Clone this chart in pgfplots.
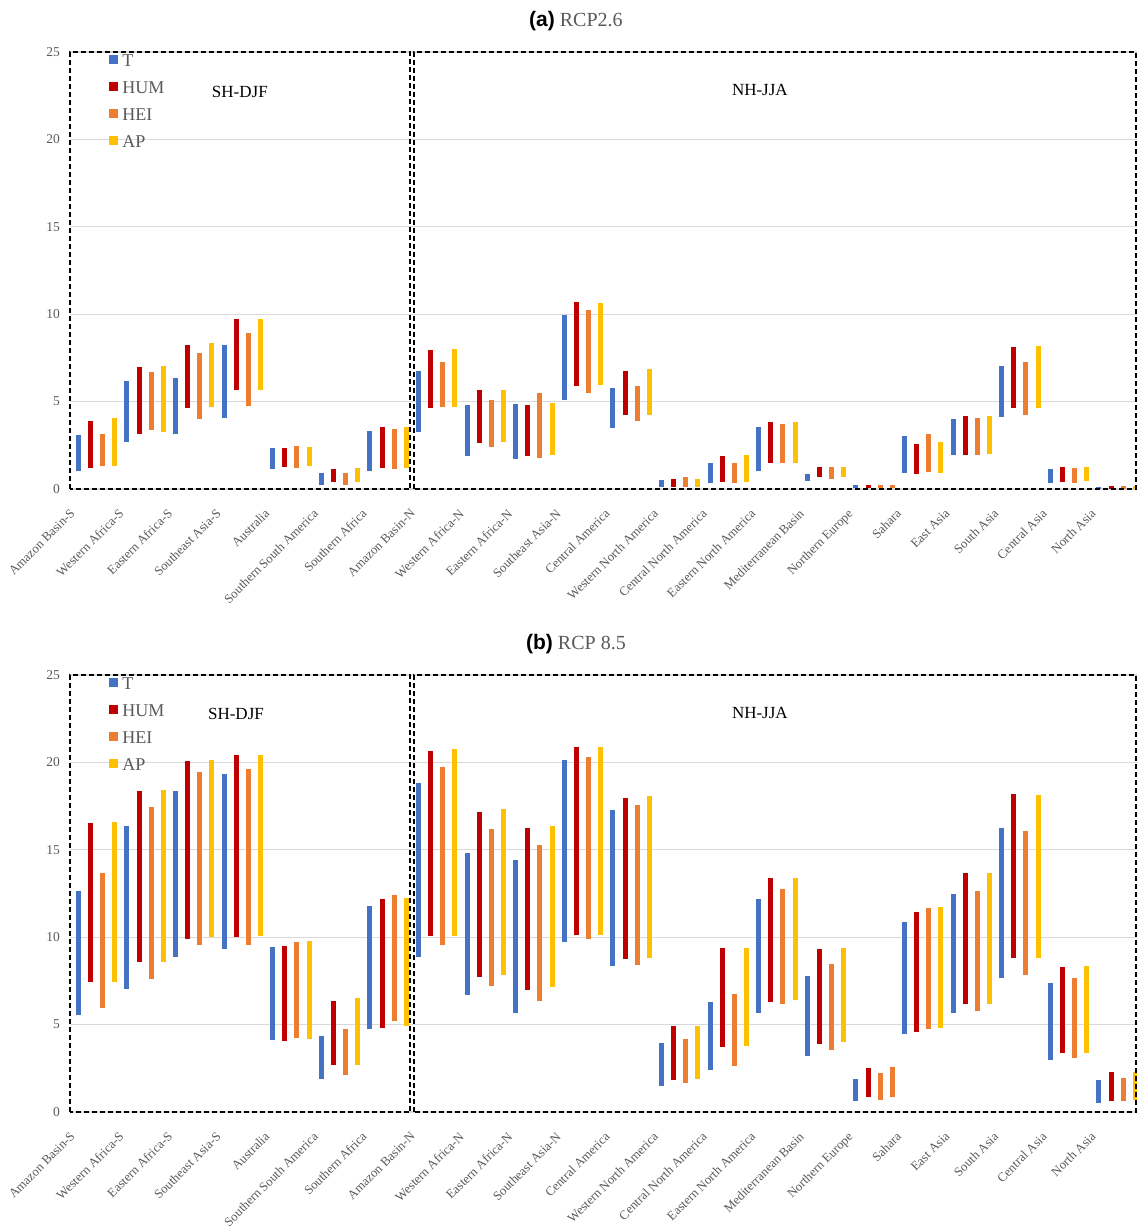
\documentclass[border=0pt]{standalone}
\usepackage{fontspec}
\setmainfont{Liberation Serif}
\newfontfamily\arial{Liberation Sans}
\usepackage{pgfplots}
\usepackage{pgfplotstable}
\pgfplotsset{compat=1.18}
\definecolor{cT}{HTML}{4472C4}
\definecolor{cH}{HTML}{C00000}
\definecolor{cE}{HTML}{ED7D31}
\definecolor{cA}{HTML}{FFC000}
\definecolor{cTxt}{HTML}{595959}
\definecolor{cGrid}{HTML}{D9D9D9}

% panel (a) RCP2.6 : low/high of each bar
\pgfplotstableread{
x Tlo Thi Hlo Hhi Elo Ehi Alo Ahi
0 1.03 3.08 1.22 3.91 1.30 3.16 1.30 4.05
1 2.71 6.16 3.12 6.96 3.39 6.71 3.26 7.02
2 3.12 6.36 4.63 8.26 4.01 7.79 4.67 8.33
3 4.07 8.26 5.64 9.75 4.75 8.90 5.64 9.75
4 1.14 2.36 1.28 2.36 1.22 2.48 1.30 2.42
5 0.25 0.93 0.41 1.14 0.25 0.93 0.41 1.20
6 1.03 3.29 1.22 3.53 1.16 3.45 1.22 3.57
7 3.24 6.76 4.63 7.93 4.67 7.27 4.67 8.00
8 1.90 4.81 2.64 5.64 2.38 5.10 2.71 5.68
9 1.69 4.86 1.90 4.81 1.77 5.48 1.96 4.94
10 5.10 9.98 5.91 10.72 5.48 10.23 5.97 10.64
11 3.47 5.76 4.21 6.76 3.88 5.89 4.26 6.84
12 0.14 0.52 0.14 0.60 0.14 0.68 0.14 0.60
13 0.33 1.47 0.41 1.90 0.33 1.47 0.41 1.96
14 1.03 3.53 1.49 3.86 1.49 3.72 1.49 3.86
15 0.48 0.85 0.68 1.28 0.60 1.28 0.68 1.28
16 0.05 0.22 0.05 0.22 0.05 0.22 nan nan
17 0.93 3.04 0.85 2.56 0.99 3.16 0.93 2.67
18 1.96 3.99 1.96 4.19 1.96 4.05 2.02 4.19
19 4.13 7.03 4.61 8.12 4.21 7.25 4.61 8.20
20 0.33 1.12 0.41 1.28 0.33 1.20 0.48 1.28
21 0.02 0.12 0.02 0.15 0.02 0.18 0.02 0.18
}\tabA
\pgfplotstableread{
x Alo Ahi
16 0.05 0.22
}\neA

% panel (b) RCP 8.5
\pgfplotstableread{
x Tlo Thi Hlo Hhi Elo Ehi Alo Ahi
0 5.53 12.65 7.44 16.55 5.97 13.68 7.44 16.60
1 7.06 16.34 8.59 18.36 7.60 17.42 8.59 18.42
2 8.87 18.36 9.92 20.08 9.58 19.43 10.00 20.15
3 9.35 19.35 10.00 20.42 9.54 19.62 10.08 20.42
4 4.12 9.45 4.05 9.50 4.26 9.71 4.20 9.79
5 1.91 4.35 2.67 6.37 2.12 4.77 2.67 6.51
6 4.73 11.79 4.83 12.18 5.19 12.39 4.92 12.25
7 8.87 18.80 10.08 20.67 9.54 19.75 10.08 20.74
8 6.68 14.79 7.75 17.14 7.19 16.20 7.81 17.33
9 5.67 14.39 7.00 16.26 6.34 15.27 7.14 16.39
10 9.73 20.15 10.13 20.88 9.89 20.29 10.13 20.88
11 8.34 17.27 8.74 17.99 8.40 17.54 8.80 18.07
12 1.51 3.97 1.85 4.90 1.64 4.18 1.91 4.90
13 2.39 6.30 3.72 9.39 2.65 6.77 3.78 9.39
14 5.67 12.19 6.32 13.40 6.20 12.73 6.39 13.40
15 3.19 7.79 3.91 9.31 3.53 8.44 3.99 9.39
16 0.65 1.91 0.84 2.50 0.71 2.23 nan nan
17 4.47 10.86 4.60 11.47 4.73 11.66 4.79 11.72
18 5.67 12.46 6.15 13.66 5.80 12.65 6.15 13.66
19 7.67 16.26 8.80 18.21 7.81 16.07 8.80 18.13
20 2.98 7.37 3.38 8.32 3.11 7.65 3.38 8.38
21 0.51 1.83 0.65 2.29 0.65 1.97 0.71 2.29
}\tabB
\pgfplotstableread{
x Alo Ahi
16 0.84 2.56
}\neB

\tikzset{dbox/.style={black, line width=2pt, dash pattern=on 5pt off 3pt}}

\pgfplotsset{
  panel/.style={
    scale only axis, width=1067pt, height=437pt, anchor=south west,
    xmin=-0.545, xmax=21.41, ymin=0, ymax=25,
    ytick={0,5,10,15,20,25},
    xtick={0,...,21},
    xticklabels={Amazon Basin-S,Western Africa-S,Eastern Africa-S,Southeast Asia-S,Australia,Southern South America,Southern Africa,Amazon Basin-N,Western Africa-N,Eastern Africa-N,Southeast Asia-N,Central America,Western North America,Central North America,Eastern North America,Mediterranean Basin,Northern Europe,Sahara,East Asia,South Asia,Central Asia,North Asia},
    axis line style={draw=none},
    major tick length=0pt,
    ymajorgrids, grid style={draw=cGrid, line width=1.2pt},
    /pgf/number format/assume math mode=true,
    yticklabel style={font=\fontsize{13.5}{14}\selectfont, text=cTxt, inner sep=0pt, xshift=-10pt},
    xticklabel style={font=\fontsize{12.8}{13}\selectfont, text=cTxt, inner sep=0pt, xshift=-27pt, yshift=-19pt, rotate=45, anchor=north east},
    clip=false,
    title style={at={(axis description cs:0.4742,1)}, anchor=center, yshift=25pt, font=\fontsize{20}{22}\selectfont},
    legend style={at={(rel axis cs:0.0366,0.995)}, anchor=north west, draw=none, fill=none, inner sep=0pt,
      font=\fontsize{18}{18}\selectfont, text=cTxt, row sep=15pt, column sep=4pt,
      nodes={inner sep=0pt, text height=12pt, text depth=0pt}},
    legend cell align=left,
    legend image code/.code={\fill[##1, draw=none] (0pt,-3.5pt) rectangle (9pt,5.5pt);},
  },
  bar/.style={line width=5pt, forget plot},
}

\newcommand\bars[2]{%
  \addplot[cT, bar, quiver={u=0, v=\thisrow{Thi}-\thisrow{Tlo}}] table[x expr=\thisrow{x}-0.375, y=Tlo] {#1};
  \addplot[cH, bar, quiver={u=0, v=\thisrow{Hhi}-\thisrow{Hlo}}] table[x expr=\thisrow{x}-0.125, y=Hlo] {#1};
  \addplot[cE, bar, quiver={u=0, v=\thisrow{Ehi}-\thisrow{Elo}}] table[x expr=\thisrow{x}+0.125, y=Elo] {#1};
  \addplot[cA, bar, quiver={u=0, v=\thisrow{Ahi}-\thisrow{Alo}}] table[x expr=\thisrow{x}+0.375, y=Alo] {#1};
  \addplot[cE, bar, quiver={u=0, v=\thisrow{Ahi}-\thisrow{Alo}}] table[x expr=\thisrow{x}+0.375, y=Alo] {#2};
  \addlegendimage{fill=cT}\addlegendentry{T}
  \addlegendimage{fill=cH}\addlegendentry{HUM}
  \addlegendimage{fill=cE}\addlegendentry{HEI}
  \addlegendimage{fill=cA}\addlegendentry{AP}
  \draw[dbox] (axis cs:-0.545,0) rectangle (axis cs:6.46,25);
  \draw[dbox] (axis cs:6.54,0) rectangle (axis cs:21.39,25);
}

\begin{document}
\begin{tikzpicture}[x=1pt,y=1pt]
\useasboundingbox (0,0) rectangle (1137,1227);
\begin{axis}[panel, at={(70pt,738pt)},
  title={{\arial\bfseries\fontsize{21}{22}\selectfont (a)} \textcolor{cTxt}{RCP2.6}}]
  \bars{\tabA}{\neA}
  \node[font=\fontsize{17}{17}\selectfont] at (axis cs:2.95,22.71) {SH-DJF};
  \node[font=\fontsize{17}{17}\selectfont] at (axis cs:13.65,22.83) {NH-JJA};
\end{axis}
\begin{axis}[panel, at={(70pt,115pt)},
  title={{\arial\bfseries\fontsize{21}{22}\selectfont (b)} \textcolor{cTxt}{RCP 8.5}}]
  \bars{\tabB}{\neB}
  \node[font=\fontsize{17}{17}\selectfont] at (axis cs:2.87,22.77) {SH-DJF};
  \node[font=\fontsize{17}{17}\selectfont] at (axis cs:13.65,22.8) {NH-JJA};
\end{axis}
\end{tikzpicture}
\end{document}
